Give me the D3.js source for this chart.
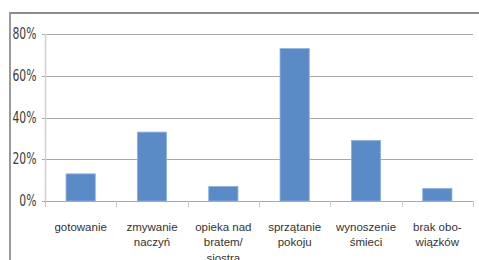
<!DOCTYPE html>
<html><head><meta charset="utf-8">
<script src="https://cdn.jsdelivr.net/npm/d3@7"></script>
<style>html,body{margin:0;padding:0;background:#fff;}svg{display:block;}</style>
</head><body>
<script>
const categories = [
  ["gotowanie"],
  ["zmywanie", "naczyń"],
  ["opieka nad", "bratem/", "siostrą"],
  ["sprzątanie", "pokoju"],
  ["wynoszenie", "śmieci"],
  ["brak obo-", "wiązków"]
];
const values = [13, 33, 7, 73, 29, 6];
const yTicks = [0, 20, 40, 60, 80];
const yTickLabels = ["0%", "20%", "40%", "60%", "80%"];

const W = 479, H = 260;
const svg = d3.select("body").append("svg").attr("width", W).attr("height", H);

// outer frame
svg.append("line").attr("x1", 10).attr("x2", W).attr("y1", 13).attr("y2", 13)
  .attr("stroke", "#8c8c8c").attr("stroke-width", 2);
svg.append("line").attr("x1", 10).attr("x2", 10).attr("y1", 12).attr("y2", H)
  .attr("stroke", "#9a9a9a").attr("stroke-width", 2);

const x = d3.scaleBand().domain(d3.range(categories.length)).range([45, 473]).padding(0);
const y = d3.scaleLinear().domain([0, 80]).range([201, 34]);

// gridlines
svg.append("g").selectAll("line").data(yTicks.filter(d => d > 0)).join("line")
  .attr("x1", 42).attr("x2", 473)
  .attr("y1", d => Math.round(y(d)) + 0.5).attr("y2", d => Math.round(y(d)) + 0.5)
  .attr("stroke", "#a8a8a8").attr("stroke-width", 1.2);

// y axis line
svg.append("line").attr("x1", 45.5).attr("x2", 45.5).attr("y1", y(80)).attr("y2", y(0))
  .attr("stroke", "#d0d0d0").attr("stroke-width", 1.5);

// y labels
svg.append("g").selectAll("text").data(yTicks).join("text")
  .attr("transform", d => `translate(36.5,${y(d) + 5}) scale(0.8,1)`)
  .attr("text-anchor", "end")
  .attr("font-family", "'Liberation Sans Narrow', 'DejaVu Sans Condensed', sans-serif")
  .attr("font-size", 15)
  .attr("fill", "#3c3c3c")
  .text((d, i) => yTickLabels[i]);

// bars
const bw = x.bandwidth() * 0.41;
svg.append("g").selectAll("rect").data(values).join("rect")
  .attr("x", (d, i) => x(i) + (x.bandwidth() - bw) / 2)
  .attr("width", bw)
  .attr("y", d => y(d))
  .attr("height", d => y(0) - y(d))
  .attr("fill", "#5b8bc6")
  .attr("stroke", "#8db2dd")
  .attr("stroke-width", 0.8);

// x axis line
svg.append("line").attr("x1", 42).attr("x2", 473).attr("y1", 201.5).attr("y2", 201.5)
  .attr("stroke", "#a8a8a8").attr("stroke-width", 1.2);
// category ticks
const bounds = d3.range(categories.length + 1).map(i => i < categories.length ? x(i) : x.range()[1]);
svg.append("g").selectAll("line").data(bounds).join("line")
  .attr("x1", d => Math.round(d) + 0.5).attr("x2", d => Math.round(d) + 0.5)
  .attr("y1", 201).attr("y2", 207)
  .attr("stroke", "#c8c8c8").attr("stroke-width", 1);

// category labels
const lab = svg.append("g").selectAll("text").data(categories).join("text")
  .attr("text-anchor", "middle")
  .attr("font-family", "'Liberation Sans', Arial, sans-serif")
  .attr("font-size", 11.5)
  .attr("fill", "#333");
lab.each(function (lines, i) {
  d3.select(this).selectAll("tspan").data(lines).join("tspan")
    .attr("x", x(i) + x.bandwidth() / 2)
    .attr("y", (d, j) => 230.5 + j * 15.5)
    .text(d => d);
});
</script>
</body></html>
